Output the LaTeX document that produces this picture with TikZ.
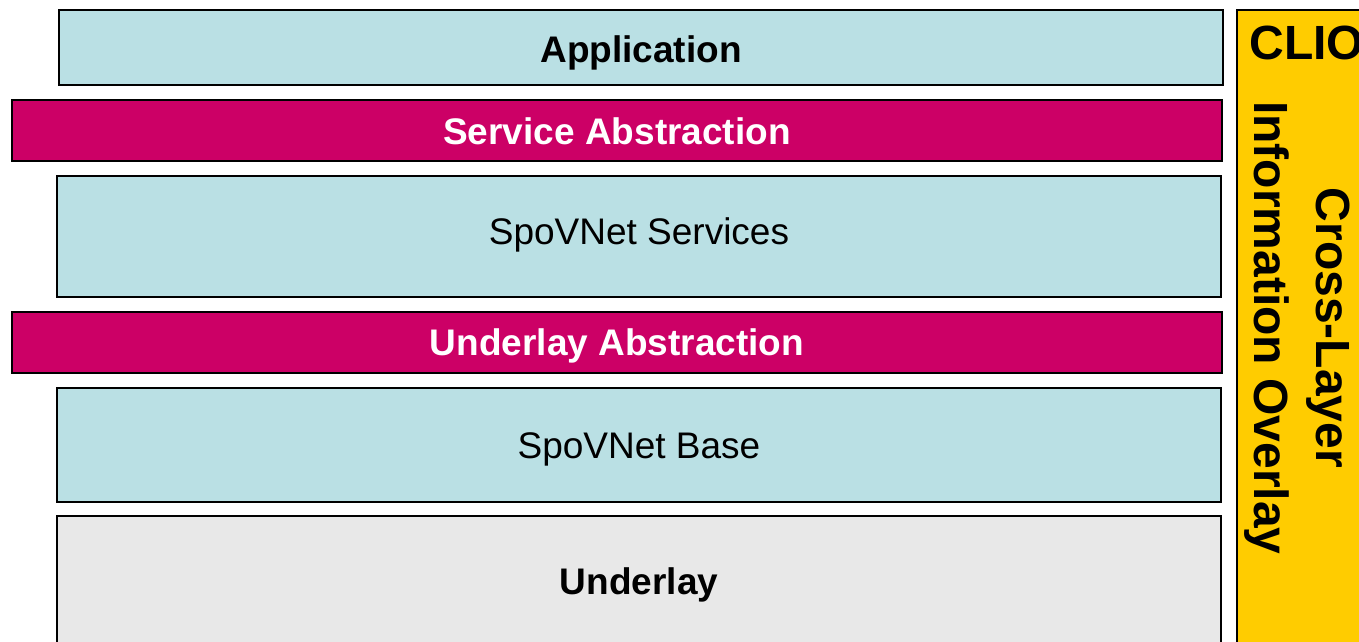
\documentclass[tikz,border=0pt]{standalone}
\usepackage{fontspec}
\setmainfont{Liberation Sans}
\definecolor{layerblue}{HTML}{BAE0E4}
\definecolor{abstractred}{HTML}{CC0066}
\definecolor{underlaygray}{HTML}{E8E8E8}
\definecolor{clioyellow}{HTML}{FFCC00}
\begin{document}
\begin{tikzpicture}[x=0.5pt,y=-0.5pt,
  layer/.style={draw=black,line width=0.8pt},
  label/.style={font=\fontsize{18.5}{22}\selectfont,text height=13pt,text depth=0pt}]
\useasboundingbox (0,0) rectangle (1359,642);
\clip (0,0) rectangle (1359,642);
% SpoVNet stack
\draw[layer,fill=layerblue] (59,10) rectangle (1223,85) node[midway,label,yshift=-1pt] (app) {\textbf{Application}};
\draw[layer,fill=abstractred] (12,100) rectangle (1222,161) node[midway,label,text=white,yshift=-0.5pt] (sa) {\textbf{Service Abstraction}};
\draw[layer,fill=layerblue] (57,176) rectangle (1221,297) node[midway,label,yshift=2.5pt] (services) {SpoVNet Services};
\draw[layer,fill=abstractred] (12,312) rectangle (1222,373) node[midway,label,text=white] (ua) {\textbf{Underlay Abstraction}};
\draw[layer,fill=layerblue] (57,388) rectangle (1221,502) node[midway,label] (base) {SpoVNet Base};
\draw[layer,fill=underlaygray] (57,516) rectangle (1221,646) node[midway,label] (underlay) {\textbf{Underlay}};
% Cross-layer information overlay
\draw[layer,fill=clioyellow] (1237,10) rectangle (1375,660);
\node[anchor=base west,inner sep=0pt,font=\fontsize{24}{29}\selectfont\bfseries] (clio) at (1249,60) {CLIO};
\node[rotate=-90,align=center,font=\fontsize{24}{31}\selectfont\bfseries] (cliotext) at (1297,328) {Cross-Layer\\Information Overlay};
\end{tikzpicture}
\end{document}
